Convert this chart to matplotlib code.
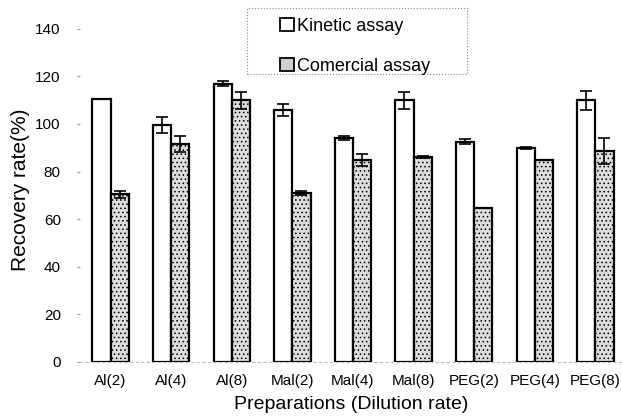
import numpy as np
import matplotlib
matplotlib.use("Agg")
import matplotlib.pyplot as plt
from matplotlib.patches import Rectangle

plt.rcParams['font.family'] = ['Liberation Sans', 'DejaVu Sans']
plt.rcParams['hatch.color'] = '#8a8a8a'
plt.rcParams['hatch.linewidth'] = 0.6

preparations = ['Al(2)', 'Al(4)', 'Al(8)', 'Mal(2)', 'Mal(4)', 'Mal(8)', 'PEG(2)', 'PEG(4)', 'PEG(8)']
kinetic = [110.5, 99.5, 117, 106, 94, 110, 92.5, 90, 110]
kinetic_err = [0, 3.5, 1, 2.5, 0.8, 3.5, 1, 0.5, 4]
comercial = [70.5, 91.5, 110, 71, 85, 86, 64.5, 85, 88.5]
comercial_err = [1.5, 3.5, 3.5, 0.7, 2.5, 0.5, 0, 0, 5.5]

fig = plt.figure(figsize=(6.22, 4.17), dpi=100)
ax = fig.add_axes([0.129, 0.133, 0.871, 0.826])

x = np.arange(len(preparations))
w = 0.3
ax.bar(x - w/2, kinetic, w, color='white', edgecolor='black', linewidth=1.6,
       yerr=kinetic_err, capsize=4, error_kw=dict(elinewidth=1.2, capthick=1.2),
       label='Kinetic assay')
ax.bar(x + w/2, comercial, w, color='#dcdcdc', edgecolor='black', linewidth=1.6,
       hatch='....', yerr=comercial_err, capsize=4,
       error_kw=dict(elinewidth=1.2, capthick=1.2), label='Comercial assay')

ax.set_xlim(-0.5, 8.44)
ax.set_ylim(0, 145)
ax.set_yticks(np.arange(0, 141, 20))
ax.set_xticks(x)
ax.set_xticklabels(preparations, fontsize=11)
ax.tick_params(axis='y', labelsize=11, length=2, color='#999999', pad=12)
ax.tick_params(axis='x', length=0, pad=9)
for s in ['top', 'right', 'left']:
    ax.spines[s].set_visible(False)
ax.spines['bottom'].set_color('#bbbbbb')
ax.spines['bottom'].set_linestyle((0, (2, 3)))
ax.spines['bottom'].set_linewidth(0.8)

ax.set_ylabel('Recovery rate(%)', fontsize=15, labelpad=4)
ax.set_xlabel('Preparations (Dilution rate)', fontsize=14, labelpad=6)

# legend without frame, dotted box drawn separately
leg = fig.legend(loc='upper left', bbox_to_anchor=(280/622, 0.958), fontsize=13,
                 labelspacing=1.3, handlelength=0.75, handleheight=0.75,
                 handletextpad=0.2, borderpad=0, frameon=False,
                 borderaxespad=0)
for p in leg.get_patches():
    p.set_hatch(None)
    p.set_linewidth(1.3)
leg.get_patches()[1].set_facecolor('#cfcfcf')

fig.patches.append(Rectangle((247/622, 0.822), 220/622, 0.158,
                             transform=fig.transFigure, fill=False,
                             edgecolor='#888888', linestyle=':', linewidth=0.8))

fig.savefig('out.png', dpi=100)
